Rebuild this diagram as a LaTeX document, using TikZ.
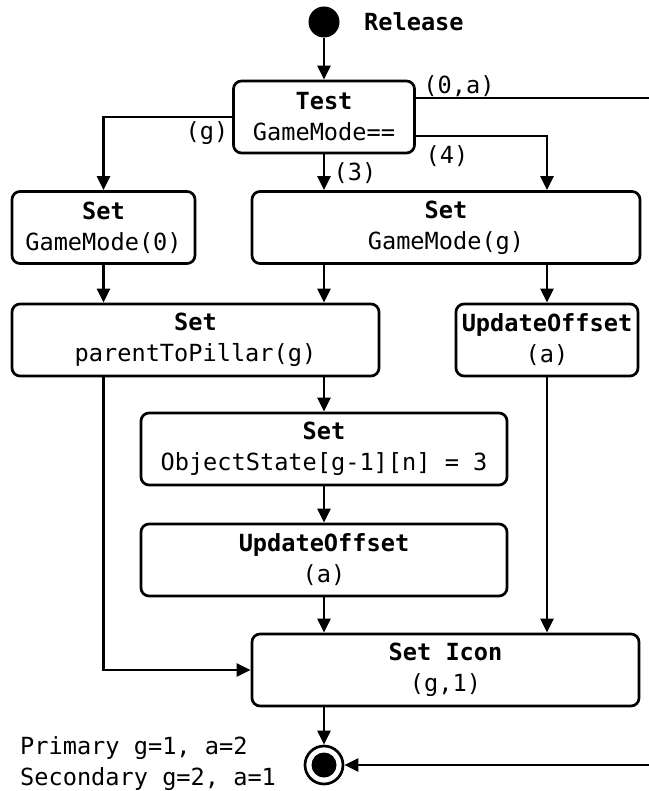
\documentclass[tikz,border=0pt]{standalone}
\usepackage{fontspec}
\setmainfont{DejaVu Sans Mono}
\usetikzlibrary{calc,arrows.meta}

\tikzset{
    act/.style={draw, rounded corners=8pt, line width=\linethick, align=center, minimum height=72},
    arr/.style={line width=\linethick, -{Triangle[length=14pt,width=13pt]}},
    lbl/.style={inner sep=0pt},
}

\begin{document}
\begin{tikzpicture}[x=1pt, y=-1pt, font=\fontsize{23.6}{31}\selectfont]

        \def\linethick{2.7pt}

        \useasboundingbox (0, 0) rectangle (648, 791);

        % start and end
        \node[circle, fill, inner sep=0pt, minimum size=31] (start) at (324, 22) {};
        \node[lbl, anchor=west] (rel) at (364, 22) {\textbf{Release}};
        \node[circle, draw, line width=\linethick, inner sep=0pt, minimum size=38] (final) at (324, 765) {};
        \fill (final) circle (12.5pt);

        % activities
        \node[act, minimum width=181] (test) at (324, 117) {\textbf{Test}\\GameMode==};
        \node[act, minimum width=183] (gm0) at (103.5, 227.5) {\textbf{Set}\\GameMode(0)};
        \node[act, minimum width=388] (gmg) at (446, 227.5) {\textbf{Set}\\GameMode(g)};
        \node[act, minimum width=367] (ptp) at (195.5, 340) {\textbf{Set}\\parentToPillar(g)};
        \node[act, minimum width=182] (upd1) at (547, 340) {\textbf{UpdateOffset}\\(a)};
        \node[act, minimum width=366] (obj) at (324, 449) {\textbf{Set}\\ObjectState[g-1][n] = 3};
        \node[act, minimum width=366] (upd2) at (324, 560) {\textbf{UpdateOffset}\\(a)};
        \node[act, minimum width=387] (icon) at (445.5, 670) {\textbf{Set Icon}\\(g,1)};

        \coordinate (exitR) at (652, 98);

        % connectors
        \draw[arr] (start) -- (test);
        \draw[line width=\linethick] (test.east |- exitR) -- (exitR) -- (exitR |- final);
        \draw[arr] (exitR |- final) -- (final.east);
        \draw[arr] (test.west) -| (gm0.north);
        \draw[arr] (test.south) -- (test.south |- gmg.north);
        \draw[arr] ($(test.east) + (0, 19)$) -| (upd1 |- gmg.north);
        \draw[arr] (gm0.south) -- (gm0.south |- ptp.north);
        \draw[arr] (test.south |- gmg.south) -- (test.south |- ptp.north);
        \draw[arr] (upd1 |- gmg.south) -- (upd1.north);
        \draw[arr] (gm0.south |- ptp.south) |- (icon.west);
        \draw[arr] (obj.north |- ptp.south) -- (obj.north);
        \draw[arr] (obj) -- (upd2);
        \draw[arr] (upd2.south) -- (upd2.south |- icon.north);
        \draw[arr] (upd1.south) -- (upd1.south |- icon.north);
        \draw[arr] (upd2.south |- icon.south) -- (final);

        % guard labels
        \node[lbl] (g0a) at (459, 86) {(0,a)};
        \node[lbl] (g4) at (447, 156) {(4)};
        \node[lbl] (g3) at (355, 173) {(3)};
        \node[lbl] (gg) at (207, 133) {(g)};

        \node[lbl, anchor=west, align=left] (note) at (20, 764) {Primary g=1, a=2\\Secondary g=2, a=1};

    \end{tikzpicture}
\end{document}
